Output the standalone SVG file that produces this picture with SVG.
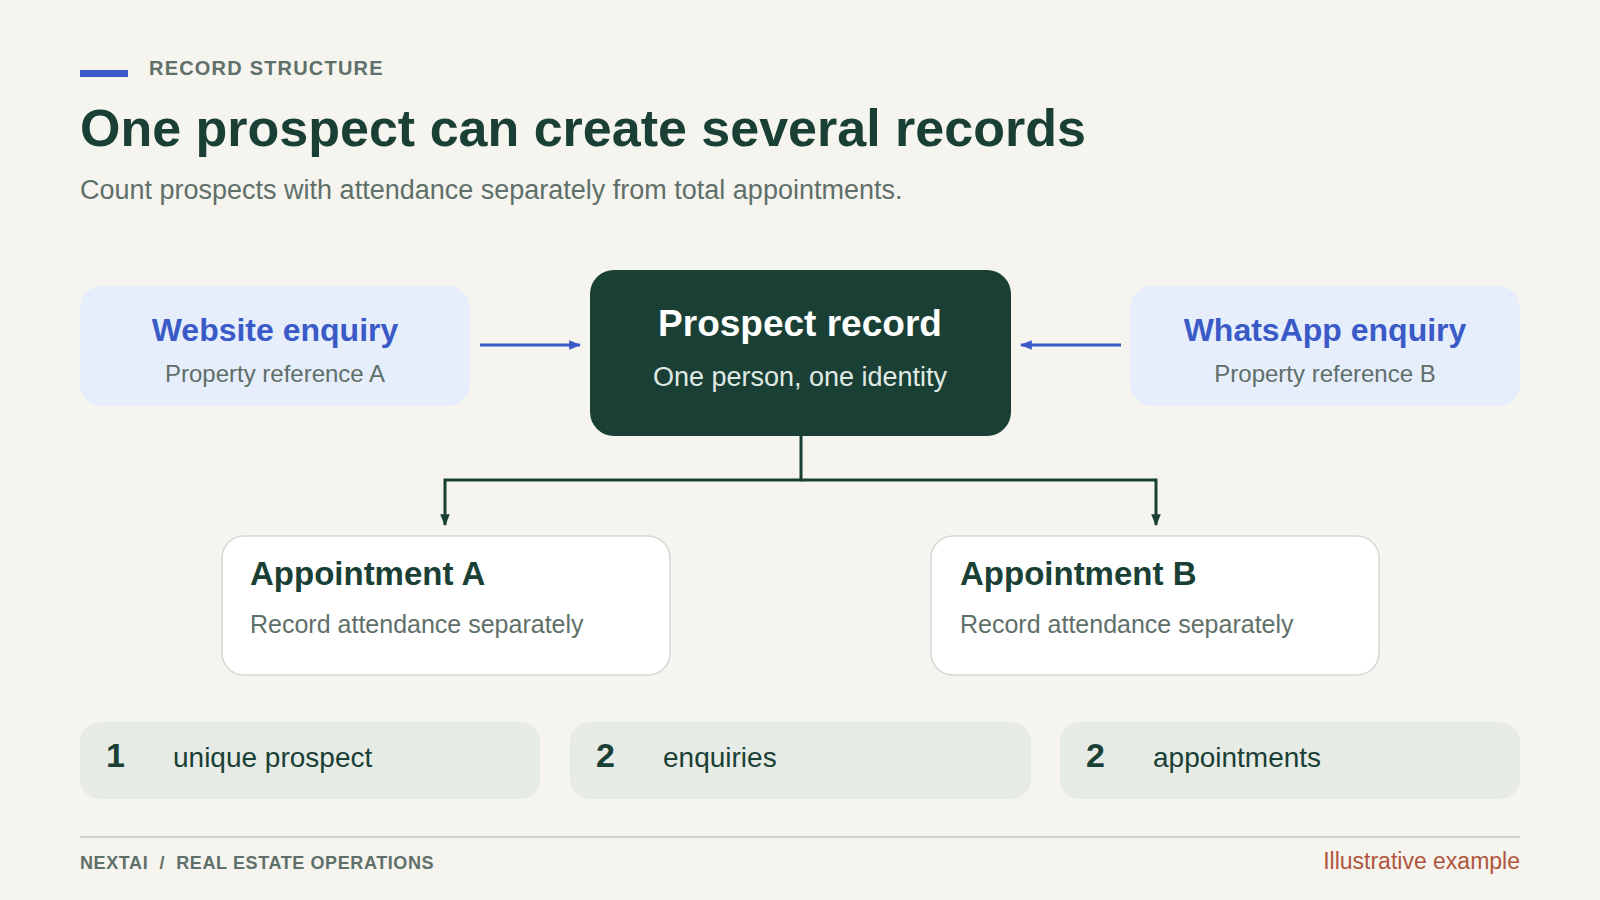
<svg xmlns="http://www.w3.org/2000/svg" width="1600" height="900" viewBox="0 0 1600 900">
<defs>
<marker id="ab" viewBox="0 0 10 10" refX="9" refY="5" markerWidth="4" markerHeight="4" orient="auto" markerUnits="strokeWidth"><path d="M0,1 L10,5 L0,9 z" fill="#3a5bc7"/></marker>
<marker id="ag" viewBox="0 0 10 10" refX="9" refY="5" markerWidth="4" markerHeight="4" orient="auto" markerUnits="strokeWidth"><path d="M0,1 L10,5 L0,9 z" fill="#1a4035"/></marker>
<style>
text{font-family:"Liberation Sans",Arial,sans-serif}
.src{fill:#e6eefc}
.srcT{font-size:32px;font-weight:bold;fill:#3a5bc7;text-anchor:middle}
.sub{font-size:24px;fill:#5f6f69;text-anchor:middle}
.appt{fill:#ffffff;stroke:#d3d9d4;stroke-width:1.5}
.apptT{font-size:33px;font-weight:bold;fill:#1a4035}
.apptS{font-size:25px;fill:#5f6f69}
.stat{fill:#e7ebe6}
.num{font-size:34px;font-weight:bold;fill:#1a4035}
.lbl{font-size:28px;fill:#1a4035}
.blue{stroke:#3a5bc7;stroke-width:3;fill:none}
.green{stroke:#1a4035;stroke-width:3;fill:none}
</style>
</defs>
<rect width="1600" height="900" fill="#f5f4ee"/>
<rect x="80" y="70" width="48" height="7" fill="#3a5bc7"/>
<text x="149" y="75" font-size="20" font-weight="bold" fill="#5f6f69" letter-spacing="1.2">RECORD STRUCTURE</text>
<text x="80" y="146" font-size="52" font-weight="bold" fill="#1a4035">One prospect can create several records</text>
<text x="80" y="199" font-size="27" fill="#5f6f69">Count prospects with attendance separately from total appointments.</text>

<g id="connectors">
<line class="blue" x1="480" y1="345" x2="580" y2="345" marker-end="url(#ab)"/>
<line class="blue" x1="1121" y1="345" x2="1021" y2="345" marker-end="url(#ab)"/>
<path class="green" d="M801,436 V480 H445 V525" marker-end="url(#ag)"/>
<path class="green" d="M801,480 H1156 V525" marker-end="url(#ag)"/>
</g>

<g id="website">
<rect class="src" x="80" y="286" width="390" height="120" rx="22"/>
<text class="srcT" x="275" y="341">Website enquiry</text>
<text class="sub" x="275" y="382">Property reference A</text>
</g>
<g id="prospect">
<rect x="590" y="270" width="421" height="166" rx="24" fill="#1a4035"/>
<text x="800" y="336" font-size="37" font-weight="bold" fill="#ffffff" text-anchor="middle">Prospect record</text>
<text x="800" y="386" font-size="27" fill="#e0eae5" text-anchor="middle">One person, one identity</text>
</g>
<g id="whatsapp">
<rect class="src" x="1130" y="286" width="390" height="120" rx="22"/>
<text class="srcT" x="1325" y="341">WhatsApp enquiry</text>
<text class="sub" x="1325" y="382">Property reference B</text>
</g>
<g id="apptA">
<rect class="appt" x="222" y="536" width="448" height="139" rx="22"/>
<text class="apptT" x="250" y="585">Appointment A</text>
<text class="apptS" x="250" y="633">Record attendance separately</text>
</g>
<g id="apptB">
<rect class="appt" x="931" y="536" width="448" height="139" rx="22"/>
<text class="apptT" x="960" y="585">Appointment B</text>
<text class="apptS" x="960" y="633">Record attendance separately</text>
</g>
<g id="stat1">
<rect class="stat" x="80" y="722" width="460" height="77" rx="20"/>
<text class="num" x="106" y="767">1</text>
<text class="lbl" x="173" y="767">unique prospect</text>
</g>
<g id="stat2">
<rect class="stat" x="570" y="722" width="461" height="77" rx="20"/>
<text class="num" x="596" y="767">2</text>
<text class="lbl" x="663" y="767">enquiries</text>
</g>
<g id="stat3">
<rect class="stat" x="1060" y="722" width="460" height="77" rx="20"/>
<text class="num" x="1086" y="767">2</text>
<text class="lbl" x="1153" y="767">appointments</text>
</g>
<line x1="80" y1="837" x2="1520" y2="837" stroke="#cfd6d1" stroke-width="2"/>
<text x="80" y="869" font-size="18" font-weight="bold" fill="#5f6f69" letter-spacing="0.6" xml:space="preserve">NEXTAI  /  REAL ESTATE OPERATIONS</text>
<text x="1520" y="869" font-size="23" fill="#b0553d" text-anchor="end">Illustrative example</text>
</svg>
